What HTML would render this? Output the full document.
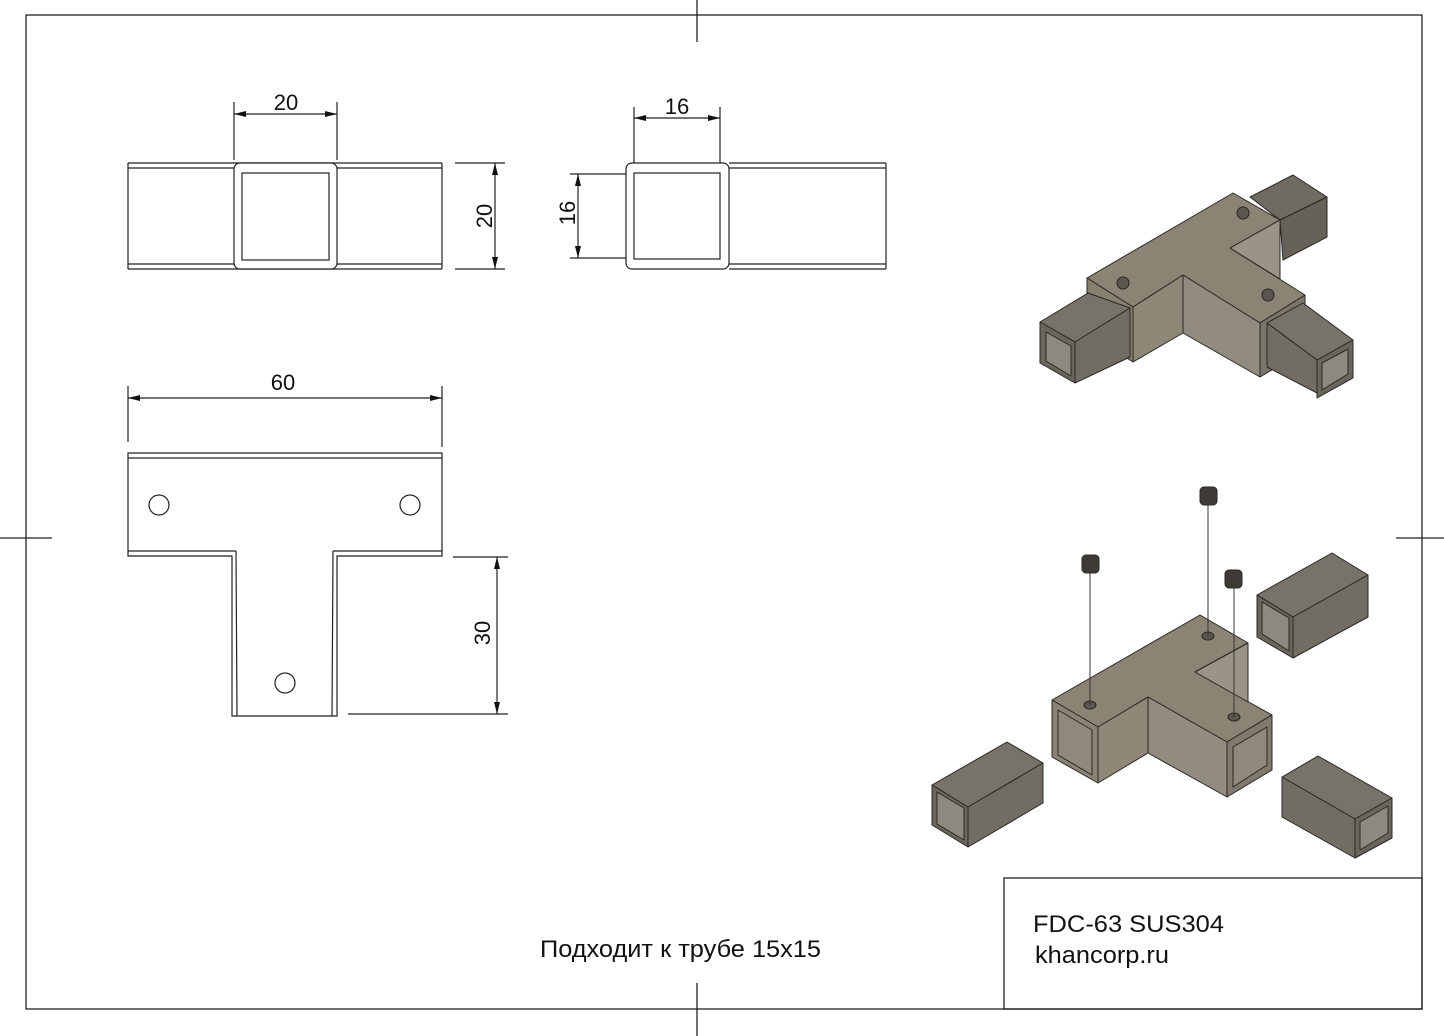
<!DOCTYPE html>
<html><head><meta charset="utf-8"><style>
html,body{margin:0;padding:0;background:#fff}
svg{display:block}
text{font-family:"Liberation Sans",sans-serif;fill:#111}
</style></head><body>
<svg width="1444" height="1036" viewBox="0 0 1444 1036" xmlns="http://www.w3.org/2000/svg">
<defs>
<marker id="a" viewBox="0 0 12 6" refX="12" refY="3" markerWidth="12" markerHeight="6" orient="auto-start-reverse" markerUnits="userSpaceOnUse"><path d="M0,0L12,3L0,6z" fill="#111"/></marker>
</defs>
<rect width="1444" height="1036" fill="#fff"/>
<g stroke="#222" stroke-width="1.3" fill="none">
<rect x="26" y="15" width="1396" height="994"/>
<line x1="697" y1="0" x2="697" y2="42"/>
<line x1="697" y1="983" x2="697" y2="1036"/>
<line x1="0" y1="538" x2="52" y2="538"/>
<line x1="1396" y1="538" x2="1444" y2="538"/>
<rect x="1004" y="878" width="418" height="131"/>
</g>
<g stroke="#222" stroke-width="1.2" fill="none">
<line x1="128" y1="163" x2="442" y2="163"/><line x1="128" y1="269" x2="442" y2="269"/>
<line x1="128" y1="168" x2="442" y2="168"/><line x1="128" y1="264" x2="442" y2="264"/>
<line x1="128" y1="163" x2="128" y2="269"/><line x1="442" y1="163" x2="442" y2="269"/>
<rect x="234" y="163" width="103" height="106" rx="6" fill="#fff"/>
<rect x="242" y="173" width="87" height="87"/>
<line x1="234" y1="102" x2="234" y2="160"/><line x1="337" y1="102" x2="337" y2="160"/>
<line x1="234" y1="114" x2="337" y2="114" marker-start="url(#a)" marker-end="url(#a)"/>
<line x1="455" y1="163" x2="505" y2="163"/><line x1="455" y1="269" x2="505" y2="269"/>
<line x1="495" y1="163" x2="495" y2="269" marker-start="url(#a)" marker-end="url(#a)"/>
</g>
<text x="286" y="110" font-size="22" text-anchor="middle">20</text>
<text transform="translate(492,216) rotate(-90)" font-size="22" text-anchor="middle">20</text>
<g stroke="#222" stroke-width="1.2" fill="none">
<line x1="729" y1="163" x2="886" y2="163"/><line x1="729" y1="269" x2="886" y2="269"/>
<line x1="729" y1="168" x2="886" y2="168"/><line x1="729" y1="264" x2="886" y2="264"/>
<line x1="886" y1="163" x2="886" y2="269"/>
<rect x="626" y="163" width="103" height="106" rx="6" fill="#fff"/>
<rect x="634" y="173" width="86" height="86"/>
<line x1="634" y1="107" x2="634" y2="163"/><line x1="720" y1="107" x2="720" y2="163"/>
<line x1="634" y1="118" x2="720" y2="118" marker-start="url(#a)" marker-end="url(#a)"/>
<line x1="570" y1="174" x2="626" y2="174"/><line x1="570" y1="258" x2="626" y2="258"/>
<line x1="578" y1="174" x2="578" y2="258" marker-start="url(#a)" marker-end="url(#a)"/>
</g>
<text x="677" y="114" font-size="22" text-anchor="middle">16</text>
<text transform="translate(575,213) rotate(-90)" font-size="22" text-anchor="middle">16</text>
<g stroke="#222" stroke-width="1.2" fill="none">
<path d="M128,453 H442 V556 H337 V716 H232 V556 H128 Z"/>
<line x1="128" y1="458" x2="442" y2="458"/>
<line x1="128" y1="551" x2="236" y2="551"/><line x1="236" y1="551" x2="237" y2="716"/>
<line x1="442" y1="551" x2="333" y2="551"/><line x1="333" y1="551" x2="332" y2="716"/>
<circle cx="159" cy="505" r="10"/><circle cx="410" cy="505" r="10"/><circle cx="285" cy="683" r="10"/>
<line x1="128" y1="386" x2="128" y2="442"/><line x1="442" y1="386" x2="442" y2="447"/>
<line x1="128" y1="398" x2="442" y2="398" marker-start="url(#a)" marker-end="url(#a)"/>
<line x1="453" y1="557" x2="508" y2="557"/><line x1="348" y1="714" x2="508" y2="714"/>
<line x1="497" y1="557" x2="497" y2="714" marker-start="url(#a)" marker-end="url(#a)"/>
</g>
<text x="283" y="390" font-size="22" text-anchor="middle">60</text>
<text transform="translate(490,633) rotate(-90)" font-size="22" text-anchor="middle">30</text>
<g stroke="#2a2824" stroke-width="1" stroke-linejoin="round">
<polygon points="1250,197 1293,175 1327,197 1280,220" fill="#6f6b62"/>
<polygon points="1280,220 1327,197 1327,237 1283,260" fill="#66625a"/>
<polygon points="1087,278 1233,193 1280,220 1230,248 1305,295 1260,323 1183,275 1133,307" fill="#8b8475"/>
<polygon points="1230,248 1280,220 1280,279" fill="#9a9486"/>
<polygon points="1087,278 1133,307 1133,362 1087,333" fill="#86806f"/>
<polygon points="1133,307 1183,275 1183,333 1133,362" fill="#8f8878"/>
<polygon points="1183,275 1260,323 1260,377 1183,333" fill="#918b80"/>
<polygon points="1260,323 1305,295 1305,350 1260,377" fill="#7b766a"/>
<polygon points="1040,322 1088,293 1130,308 1075,342" fill="#77726a"/>
<polygon points="1040,322 1075,342 1075,383 1040,363" fill="#6a665e"/>
<polygon points="1046,332 1071,346 1071,376 1046,361" fill="#8e897e"/>
<polygon points="1075,342 1130,308 1130,357 1075,383" fill="#716d64"/>
<polygon points="1267,323 1303,303 1353,340 1317,360" fill="#77726a"/>
<polygon points="1267,323 1317,360 1317,393 1267,367" fill="#716d64"/>
<polygon points="1317,360 1353,340 1353,378 1317,398" fill="#6a665e"/>
<polygon points="1322,363 1348,349 1348,374 1322,390" fill="#8e897e"/>
<g fill="#5a564e"><circle cx="1123" cy="283" r="6"/><circle cx="1243" cy="213" r="6"/><circle cx="1268" cy="295" r="6"/></g>
</g>
<g stroke="#2a2824" stroke-width="1" stroke-linejoin="round">
<polygon points="1257,595 1332,553 1368,575 1293,617" fill="#77726a"/>
<polygon points="1257,595 1293,617 1293,658 1257,637" fill="#6a665e"/>
<polygon points="1262,602 1289,618 1289,651 1262,634" fill="#8e897e"/>
<polygon points="1293,617 1368,575 1368,617 1293,658" fill="#716d64"/>
<polygon points="1052,700 1200,615 1248,643 1195,672 1272,715 1227,742 1148,697 1098,727" fill="#8b8475"/>
<polygon points="1195,672 1248,643 1248,702" fill="#9a9486"/>
<polygon points="1052,700 1098,727 1098,783 1052,757" fill="#8a8476"/>
<polygon points="1058,710 1092,730 1092,775 1058,755" fill="#8f897b"/>
<polygon points="1098,727 1148,697 1148,753 1098,783" fill="#8f8878"/>
<polygon points="1148,697 1227,742 1227,797 1148,753" fill="#918b80"/>
<polygon points="1227,742 1272,715 1272,770 1227,797" fill="#807a6e"/>
<polygon points="1233,747 1267,727 1267,765 1233,787" fill="#8f897b"/>
<polygon points="932,785 1007,742 1043,763 968,807" fill="#77726a"/>
<polygon points="932,785 968,807 968,847 932,825" fill="#6a665e"/>
<polygon points="937,792 964,808 964,840 937,824" fill="#8e897e"/>
<polygon points="968,807 1043,763 1043,803 968,847" fill="#716d64"/>
<polygon points="1282,777 1318,756 1392,798 1355,819" fill="#77726a"/>
<polygon points="1282,777 1355,819 1355,858 1282,817" fill="#716d64"/>
<polygon points="1355,819 1392,798 1392,838 1355,858" fill="#6a665e"/>
<polygon points="1360,822 1388,806 1388,833 1360,850" fill="#8e897e"/>
<g fill="#5a564e"><ellipse cx="1090" cy="705" rx="6" ry="4"/><ellipse cx="1208" cy="636" rx="6" ry="4"/><ellipse cx="1234" cy="717" rx="6" ry="4"/></g>
<g fill="#3e3b36"><rect x="1082" y="555" width="17" height="18" rx="4"/><rect x="1200" y="487" width="17" height="18" rx="4"/><rect x="1225" y="570" width="17" height="18" rx="4"/></g>
</g>
<g stroke="#333" stroke-width="1"><line x1="1090" y1="573" x2="1090" y2="705"/><line x1="1208" y1="505" x2="1208" y2="636"/><line x1="1234" y1="588" x2="1234" y2="717"/></g>
<text x="540" y="957" font-size="24" textLength="281" lengthAdjust="spacingAndGlyphs">Подходит к трубе 15x15</text>
<text x="1033" y="932" font-size="24" textLength="191" lengthAdjust="spacingAndGlyphs">FDC-63 SUS304</text>
<text x="1035" y="963" font-size="24" textLength="134" lengthAdjust="spacingAndGlyphs">khancorp.ru</text>
</svg>
</body></html>
